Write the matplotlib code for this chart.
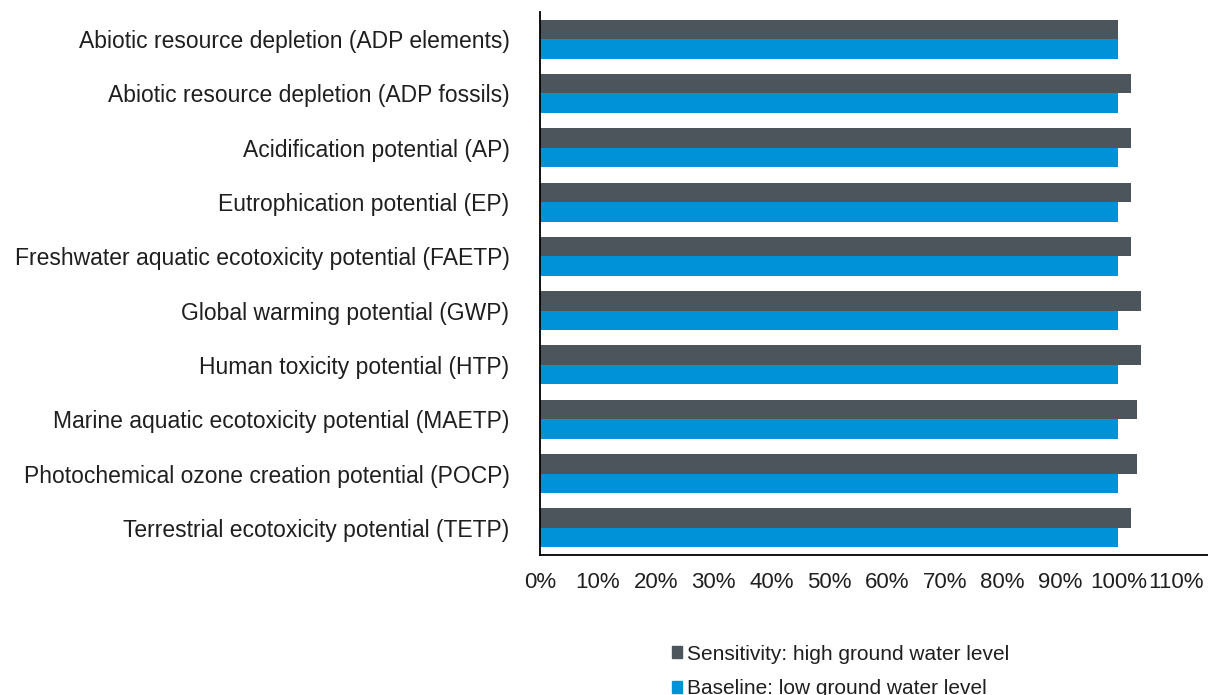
import numpy as np
import matplotlib.pyplot as plt
from matplotlib.patches import Patch

plt.rcParams['font.family'] = ['Liberation Sans', 'DejaVu Sans']
plt.rcParams['text.color'] = '#1f1f1f'

categories = [
    'Abiotic resource depletion (ADP elements)',
    'Abiotic resource depletion (ADP fossils)',
    'Acidification potential (AP)',
    'Eutrophication potential (EP)',
    'Freshwater aquatic ecotoxicity potential (FAETP)',
    'Global warming potential (GWP)',
    'Human toxicity potential (HTP)',
    'Marine aquatic ecotoxicity potential (MAETP)',
    'Photochemical ozone creation potential (POCP)',
    'Terrestrial ecotoxicity potential (TETP)',
]
sensitivity = [1.000, 1.021, 1.021, 1.021, 1.021, 1.040, 1.040, 1.032, 1.032, 1.021]
baseline = [1.0] * 10
tick_vals = np.arange(0, 1.11, 0.1)
tick_labels = [f'{int(round(v * 100))}%' for v in tick_vals]

dark = '#4b555b'
blue = '#0092d8'

fig = plt.figure(figsize=(12.08, 6.95), dpi=100)
ax = fig.add_axes([540 / 1208, 1 - 555 / 695, 1 - 540 / 1208, (555 - 12) / 695])

y = np.arange(len(categories))
h = 0.36
ax.barh(y - h / 2, sensitivity, height=h, color=dark)
ax.barh(y + h / 2, baseline, height=h, color=blue)

ax.set_ylim(len(categories) - 0.5, -0.5)
ax.set_xlim(0, 1.155)
ax.set_yticks(y)
ax.set_yticklabels(categories, fontsize=16.5, color='#1f1f1f')
ax.set_xticks(tick_vals)
ax.set_xticklabels(tick_labels, fontsize=16, color='#1f1f1f')
ax.tick_params(axis='y', length=0, pad=22)
ax.tick_params(axis='x', length=0, pad=12)
for s in ['top', 'right']:
    ax.spines[s].set_visible(False)
for s in ['left', 'bottom']:
    ax.spines[s].set_linewidth(1.3)

handles = [Patch(color=dark), Patch(color=blue)]
fig.legend(handles, ['Sensitivity: high ground water level', 'Baseline: low ground water level'],
           loc='upper left', bbox_to_anchor=(653 / 1208, 1 - 626 / 695), frameon=False,
           fontsize=15, handlelength=0.5, handleheight=0.5, handletextpad=0.25, labelspacing=0.75)

fig.savefig('out.png', dpi=100)
